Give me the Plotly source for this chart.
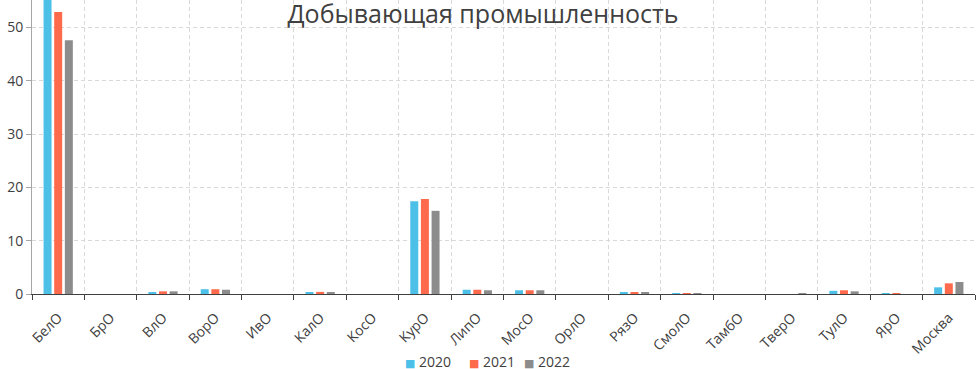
import plotly.graph_objects as go

categories = ["БелО", "БрО", "ВлО", "ВорО", "ИвО", "КалО", "КосО", "КурО", "ЛипО",
              "МосО", "ОрлО", "РязО", "СмолО", "ТамбО", "ТверО", "ТулО", "ЯрО", "Москва"]
v2020 = [57.0, 0, 0.3, 0.9, 0, 0.3, 0, 17.4, 0.8, 0.7, 0, 0.2, 0.1, 0, 0, 0.6, 0.1, 1.25]
v2021 = [52.9, 0, 0.5, 0.9, 0, 0.4, 0, 17.8, 0.8, 0.7, 0, 0.2, 0.1, 0, 0, 0.7, 0.1, 2.0]
v2022 = [47.6, 0, 0.5, 0.8, 0, 0.3, 0, 15.6, 0.7, 0.7, 0, 0.2, 0.1, 0, 0.1, 0.5, 0, 2.25]
series_names = ["2020", "2021", "2022"]
colors = ["#4DC0E8", "#FF6A4D", "#8C8C8C"]

fig = go.Figure()
for name, vals, col in zip(series_names, [v2020, v2021, v2022], colors):
    fig.add_trace(go.Bar(x=categories, y=vals, name=name, showlegend=False,
                         marker=dict(color=col, line=dict(width=0))))

# legend drawn as text entries (square glyph + year) centred under the plot
legend_left_px = [403, 467, 522]
for name, col, px in zip(series_names, colors, legend_left_px):
    fig.add_annotation(
        text=f"<span style='color:{col};font-size:11px;font-family:DejaVu Sans'>■</span>"
             f"<span style='font-size:14px'> {name}</span>",
        xref="paper", yref="paper", x=(px - 32) / 943, y=-0.228,
        xanchor="left", yanchor="middle", showarrow=False,
        font=dict(size=14, color="#404040"))

font_family = "Open Sans, Noto Sans, sans-serif"
fig.update_layout(
    width=976, height=369,
    margin=dict(l=32, r=1, t=0, b=75),
    paper_bgcolor="white", plot_bgcolor="white",
    barmode="group", bargap=0.39, bargroupgap=0.25,
    font=dict(family=font_family, size=14, color="#404040"),
    title=dict(text="Добывающая промышленность", x=0.5 - 5 / 976, xanchor="center",
               y=1 - 14 / 369, yanchor="middle", yref="container",
               font=dict(size=25, color="#404040", family=font_family)),
    showlegend=False,
    xaxis=dict(tickangle=-45, tickson="boundaries", showgrid=True, gridcolor="#d9d9d9",
               griddash="4px,3px", gridwidth=1, showline=True, linecolor="#404040", linewidth=1,
               ticks="outside", ticklen=5, tickcolor="#404040", automargin=False,
               ticklabelstandoff=9,
               tickfont=dict(size=14, color="#404040"), fixedrange=True),
    yaxis=dict(range=[0, 55.15], dtick=10, showgrid=True, gridcolor="#d9d9d9", griddash="4px,3px",
               gridwidth=1, showline=True, linecolor="#a6a6a6", linewidth=1, automargin=False,
               ticks="outside", ticklen=5, tickcolor="#a6a6a6", zeroline=False,
               tickfont=dict(size=14, color="#404040")),
)
fig.write_html("out.html", config={"displayModeBar": False},
               post_script="document.body.style.margin='0';document.body.style.overflow='hidden';")
